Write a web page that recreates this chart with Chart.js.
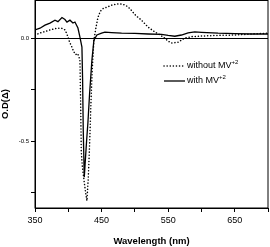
<!DOCTYPE html>
<html>
<head>
<meta charset="utf-8">
<script src="https://cdn.jsdelivr.net/npm/chart.js@4/dist/chart.umd.min.js"></script>
<style>
  html, body { margin: 0; padding: 0; background: #fff; }
  #wrap { width: 270px; height: 247px; }
</style>
</head>
<body>
<div id="wrap"><canvas id="chart" width="270" height="247"></canvas></div>
<script>
// without MV+2 (dotted)
let wlWithout = [350, 357, 365, 372, 383, 390, 395, 398, 402, 405, 408, 411, 414, 416, 417.5, 418.5, 419.5, 421,
    424, 426, 428, 430, 432, 434, 436, 438.5, 441.5, 444.5, 448, 452, 458, 465, 472, 477, 483, 488, 493, 497,
    502, 510, 520, 530, 538, 545, 550, 555, 560, 565, 570, 575, 585, 600, 625, 650, 675, 700];
let odWithout = [0.015, 0.024, 0.032, 0.039, 0.048, 0.048, 0.04, 0.02, -0.02, -0.04, -0.065, -0.08, -0.075, -0.09, -0.11, -0.3, -0.55, -0.62,
    -0.7, -0.75, -0.79, -0.68, -0.52, -0.32, -0.15, -0.01, 0.05, 0.1, 0.13, 0.143, 0.15, 0.16, 0.165, 0.167, 0.163, 0.155, 0.142, 0.126,
    0.108, 0.087, 0.053, 0.03, 0.015, 0.0, -0.015, -0.024, -0.022, -0.02, -0.01, 0.0, 0.007, 0.01, 0.013, 0.015, 0.02, 0.024];

// with MV+2 (solid)
let wlWith = [350, 357.5, 365, 372.5, 380, 384.5, 390.5, 395, 398, 402.5, 407, 410, 414.5, 417.5, 420.5, 421.5, 422.5,
    424, 425.5, 427.5, 429.5, 432, 435.5, 438.5, 443, 450, 455, 465, 480, 500, 520, 540, 550, 560, 570, 580,
    590, 600, 625, 650, 675, 700];
let odWith = [0.04, 0.048, 0.063, 0.073, 0.087, 0.08, 0.1, 0.09, 0.078, 0.087, 0.073, 0.078, 0.049, 0.005, -0.044, -0.2, -0.45,
    -0.675, -0.6, -0.5, -0.41, -0.27, -0.107, -0.01, 0.015, 0.024, 0.029, 0.027, 0.024, 0.023, 0.02, 0.018, 0.013, 0.009, 0.015, 0.025,
    0.03, 0.028, 0.024, 0.022, 0.02, 0.02];

let xTicks = [350, 400, 450, 500, 550, 600, 650, 700];
let xLabels = [350, 450, 550, 650];
let yTicks = [-0.75, -0.5, -0.25, 0];
let yLabels = { "0": "0.0", "-0.5": "-0.5" };

function toPoints(xs, ys) {
    return xs.map((x, i) => ({ x: x, y: ys[i] }));
}

// frame round the plot
const framePlugin = {
    id: "frame",
    afterDatasetsDraw(chart) {
        let a = chart.chartArea, ctx = chart.ctx;
        ctx.save();
        ctx.strokeStyle = "#000";
        ctx.lineWidth = 1;
        ctx.strokeRect(a.left, a.top + 0.5, a.right - a.left, a.bottom - a.top - 0.5);
        ctx.restore();
    }
};

// legend inside the plot, with superscript
const legendPlugin = {
    id: "innerLegend",
    afterDraw(chart) {
        let ctx = chart.ctx;
        let rows = [66, 81];
        ctx.save();
        chart.data.datasets.forEach((ds, i) => {
            let y = rows[i];
            ctx.strokeStyle = "#000";
            ctx.lineWidth = ds.borderWidth;
            ctx.setLineDash(ds.borderDash || []);
            ctx.lineCap = ds.borderCapStyle || "butt";
            ctx.beginPath();
            ctx.moveTo(164, y);
            ctx.lineTo(185, y);
            ctx.stroke();
            ctx.setLineDash([]);
            ctx.fillStyle = "#000";
            ctx.textBaseline = "middle";
            ctx.font = "9px 'Liberation Sans', Arial, sans-serif";
            ctx.fillText(ds.label, 187, y);
            let w = ctx.measureText(ds.label).width;
            ctx.font = "6px 'Liberation Sans', Arial, sans-serif";
            ctx.fillText(ds.sup, 187 + w, y - 4);
        });
        ctx.restore();
    }
};

new Chart(document.getElementById("chart"), {
    type: "line",
    data: {
        datasets: [
            {
                label: "without MV",
                sup: "+2",
                data: toPoints(wlWithout, odWithout),
                borderColor: "#000",
                borderWidth: 1.5,
                borderDash: [0.1, 3],
                borderCapStyle: "round",
                pointRadius: 0,
                tension: 0
            },
            {
                label: "with MV",
                sup: "+2",
                data: toPoints(wlWith, odWith),
                borderColor: "#000",
                borderWidth: 1.3,
                pointRadius: 0,
                tension: 0
            }
        ]
    },
    options: {
        responsive: false,
        animation: false,
        layout: { padding: { top: 0, right: 2, left: 0, bottom: 0 } },
        plugins: { legend: { display: false }, tooltip: { enabled: false } },
        scales: {
            x: {
                type: "linear",
                min: 350,
                max: 700,
                afterBuildTicks: s => { s.ticks = xTicks.map(v => ({ value: v })); },
                afterFit: s => { s.height = 39; s.paddingLeft = 0; s.paddingRight = 0; },
                ticks: {
                    color: "#000",
                    padding: 3,
                    maxRotation: 0,
                    font: { family: "'Liberation Sans', Arial, sans-serif", size: 9 },
                    callback: v => xLabels.includes(v) ? String(v) : ""
                },
                grid: { drawOnChartArea: false, color: "#000", tickLength: 4 },
                border: { color: "#000", width: 1 },
                title: {
                    display: true,
                    text: "Wavelength (nm)",
                    color: "#000",
                    padding: 0,
                    font: { family: "'Liberation Sans', Arial, sans-serif", size: 9.5, weight: "bold" }
                }
            },
            y: {
                min: -0.825,
                max: 0.185,
                afterBuildTicks: s => { s.ticks = yTicks.map(v => ({ value: v })); },
                afterFit: s => { s.width = 35; s.paddingTop = 0; s.paddingBottom = 0; },
                ticks: {
                    color: "#000",
                    padding: 2,
                    font: { family: "'Liberation Sans', Arial, sans-serif", size: 6 },
                    callback: v => yLabels[String(v)] || ""
                },
                grid: {
                    color: c => (c.tick && c.tick.value === 0) ? "#000" : "rgba(0,0,0,0)",
                    tickColor: "#000",
                    tickLength: 4,
                    lineWidth: 1
                },
                border: { color: "#000", width: 1 },
                title: {
                    display: true,
                    text: "O.D(Δ)",
                    color: "#000",
                    padding: 0,
                    font: { family: "'Liberation Sans', Arial, sans-serif", size: 9.5, weight: "bold" }
                }
            }
        }
    },
    plugins: [framePlugin, legendPlugin]
});
</script>
</body>
</html>
